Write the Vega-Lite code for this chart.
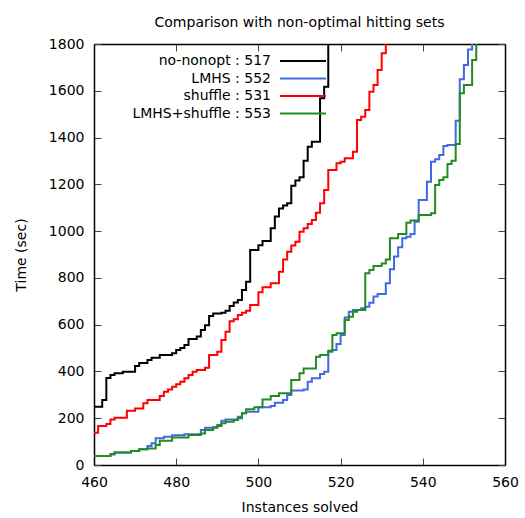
{
  "$schema": "https://vega.github.io/schema/vega-lite/v6.json",
  "autosize": {"type": "none"},
  "width": 411,
  "height": 421,
  "padding": {"left": 94, "top": 44, "right": 20, "bottom": 53},
  "background": "white",
  "title": {"text": "Comparison with non-optimal hitting sets", "font": "DejaVu Sans", "fontSize": 14, "fontWeight": "normal", "color": "black", "anchor": "middle", "frame": "group", "baseline": "alphabetic", "offset": -4},
  "config": {
    "view": {"stroke": null},
    "axis": {"labelFont": "DejaVu Sans", "labelFontSize": 14, "labelColor": "black", "titleFont": "DejaVu Sans", "titleFontSize": 14, "titleFontWeight": "normal", "titleColor": "black", "domainColor": "black", "domainWidth": 1.5, "tickColor": "#444", "tickWidth": 1, "tickSize": -7, "grid": false, "format": "d", "labelFlush": false, "labelOverlap": false},
    "legend": {"orient": "none", "legendX": 200, "legendY": 8, "padding": 0, "rowPadding": 1.5, "labelAlign": "right", "labelOffset": -41, "labelFont": "DejaVu Sans", "labelFontSize": 14, "labelColor": "black", "symbolType": "M-3,0L3,0", "symbolSize": 235, "symbolStrokeWidth": 2, "labelLimit": 0}
  },
  "data": {"values": [
    {"n": 460, "time": 249, "solver": "no-nonopt : 517"},
    {"n": 462, "time": 278, "solver": "no-nonopt : 517"},
    {"n": 463, "time": 372, "solver": "no-nonopt : 517"},
    {"n": 464, "time": 385, "solver": "no-nonopt : 517"},
    {"n": 465, "time": 392, "solver": "no-nonopt : 517"},
    {"n": 467, "time": 399, "solver": "no-nonopt : 517"},
    {"n": 470, "time": 423, "solver": "no-nonopt : 517"},
    {"n": 471, "time": 436, "solver": "no-nonopt : 517"},
    {"n": 473, "time": 449, "solver": "no-nonopt : 517"},
    {"n": 474, "time": 459, "solver": "no-nonopt : 517"},
    {"n": 476, "time": 470, "solver": "no-nonopt : 517"},
    {"n": 479, "time": 478, "solver": "no-nonopt : 517"},
    {"n": 480, "time": 492, "solver": "no-nonopt : 517"},
    {"n": 481, "time": 500, "solver": "no-nonopt : 517"},
    {"n": 482, "time": 513, "solver": "no-nonopt : 517"},
    {"n": 483, "time": 539, "solver": "no-nonopt : 517"},
    {"n": 485, "time": 549, "solver": "no-nonopt : 517"},
    {"n": 486, "time": 577, "solver": "no-nonopt : 517"},
    {"n": 487, "time": 598, "solver": "no-nonopt : 517"},
    {"n": 488, "time": 637, "solver": "no-nonopt : 517"},
    {"n": 489, "time": 648, "solver": "no-nonopt : 517"},
    {"n": 491, "time": 651, "solver": "no-nonopt : 517"},
    {"n": 492, "time": 660, "solver": "no-nonopt : 517"},
    {"n": 493, "time": 680, "solver": "no-nonopt : 517"},
    {"n": 494, "time": 695, "solver": "no-nonopt : 517"},
    {"n": 495, "time": 705, "solver": "no-nonopt : 517"},
    {"n": 496, "time": 748, "solver": "no-nonopt : 517"},
    {"n": 497, "time": 784, "solver": "no-nonopt : 517"},
    {"n": 498, "time": 919, "solver": "no-nonopt : 517"},
    {"n": 500, "time": 940, "solver": "no-nonopt : 517"},
    {"n": 501, "time": 958, "solver": "no-nonopt : 517"},
    {"n": 503, "time": 1012, "solver": "no-nonopt : 517"},
    {"n": 504, "time": 1062, "solver": "no-nonopt : 517"},
    {"n": 505, "time": 1097, "solver": "no-nonopt : 517"},
    {"n": 506, "time": 1109, "solver": "no-nonopt : 517"},
    {"n": 507, "time": 1119, "solver": "no-nonopt : 517"},
    {"n": 508, "time": 1194, "solver": "no-nonopt : 517"},
    {"n": 509, "time": 1216, "solver": "no-nonopt : 517"},
    {"n": 510, "time": 1230, "solver": "no-nonopt : 517"},
    {"n": 511, "time": 1301, "solver": "no-nonopt : 517"},
    {"n": 512, "time": 1361, "solver": "no-nonopt : 517"},
    {"n": 513, "time": 1382, "solver": "no-nonopt : 517"},
    {"n": 515, "time": 1568, "solver": "no-nonopt : 517"},
    {"n": 516, "time": 1617, "solver": "no-nonopt : 517"},
    {"n": 517, "time": 1900, "solver": "no-nonopt : 517"},

    {"n": 460, "time": 38, "solver": "LMHS : 552"},
    {"n": 464, "time": 46, "solver": "LMHS : 552"},
    {"n": 465, "time": 53, "solver": "LMHS : 552"},
    {"n": 469, "time": 60, "solver": "LMHS : 552"},
    {"n": 471, "time": 67, "solver": "LMHS : 552"},
    {"n": 473, "time": 81, "solver": "LMHS : 552"},
    {"n": 474, "time": 93, "solver": "LMHS : 552"},
    {"n": 475, "time": 114, "solver": "LMHS : 552"},
    {"n": 477, "time": 121, "solver": "LMHS : 552"},
    {"n": 479, "time": 127, "solver": "LMHS : 552"},
    {"n": 482, "time": 131, "solver": "LMHS : 552"},
    {"n": 486, "time": 150, "solver": "LMHS : 552"},
    {"n": 487, "time": 159, "solver": "LMHS : 552"},
    {"n": 490, "time": 171, "solver": "LMHS : 552"},
    {"n": 491, "time": 189, "solver": "LMHS : 552"},
    {"n": 492, "time": 195, "solver": "LMHS : 552"},
    {"n": 495, "time": 206, "solver": "LMHS : 552"},
    {"n": 496, "time": 221, "solver": "LMHS : 552"},
    {"n": 497, "time": 228, "solver": "LMHS : 552"},
    {"n": 500, "time": 247, "solver": "LMHS : 552"},
    {"n": 503, "time": 252, "solver": "LMHS : 552"},
    {"n": 504, "time": 266, "solver": "LMHS : 552"},
    {"n": 506, "time": 278, "solver": "LMHS : 552"},
    {"n": 507, "time": 299, "solver": "LMHS : 552"},
    {"n": 508, "time": 318, "solver": "LMHS : 552"},
    {"n": 511, "time": 323, "solver": "LMHS : 552"},
    {"n": 512, "time": 356, "solver": "LMHS : 552"},
    {"n": 513, "time": 371, "solver": "LMHS : 552"},
    {"n": 515, "time": 389, "solver": "LMHS : 552"},
    {"n": 516, "time": 399, "solver": "LMHS : 552"},
    {"n": 517, "time": 484, "solver": "LMHS : 552"},
    {"n": 518, "time": 492, "solver": "LMHS : 552"},
    {"n": 519, "time": 517, "solver": "LMHS : 552"},
    {"n": 520, "time": 556, "solver": "LMHS : 552"},
    {"n": 521, "time": 631, "solver": "LMHS : 552"},
    {"n": 522, "time": 655, "solver": "LMHS : 552"},
    {"n": 523, "time": 663, "solver": "LMHS : 552"},
    {"n": 525, "time": 670, "solver": "LMHS : 552"},
    {"n": 526, "time": 677, "solver": "LMHS : 552"},
    {"n": 527, "time": 694, "solver": "LMHS : 552"},
    {"n": 528, "time": 720, "solver": "LMHS : 552"},
    {"n": 529, "time": 731, "solver": "LMHS : 552"},
    {"n": 531, "time": 777, "solver": "LMHS : 552"},
    {"n": 532, "time": 837, "solver": "LMHS : 552"},
    {"n": 533, "time": 891, "solver": "LMHS : 552"},
    {"n": 534, "time": 931, "solver": "LMHS : 552"},
    {"n": 535, "time": 969, "solver": "LMHS : 552"},
    {"n": 536, "time": 976, "solver": "LMHS : 552"},
    {"n": 537, "time": 988, "solver": "LMHS : 552"},
    {"n": 538, "time": 1040, "solver": "LMHS : 552"},
    {"n": 539, "time": 1133, "solver": "LMHS : 552"},
    {"n": 541, "time": 1211, "solver": "LMHS : 552"},
    {"n": 542, "time": 1297, "solver": "LMHS : 552"},
    {"n": 543, "time": 1307, "solver": "LMHS : 552"},
    {"n": 544, "time": 1325, "solver": "LMHS : 552"},
    {"n": 545, "time": 1364, "solver": "LMHS : 552"},
    {"n": 546, "time": 1368, "solver": "LMHS : 552"},
    {"n": 548, "time": 1472, "solver": "LMHS : 552"},
    {"n": 549, "time": 1649, "solver": "LMHS : 552"},
    {"n": 550, "time": 1710, "solver": "LMHS : 552"},
    {"n": 551, "time": 1777, "solver": "LMHS : 552"},
    {"n": 552, "time": 1900, "solver": "LMHS : 552"},

    {"n": 460, "time": 138, "solver": "shuffle : 531"},
    {"n": 461, "time": 167, "solver": "shuffle : 531"},
    {"n": 463, "time": 175, "solver": "shuffle : 531"},
    {"n": 464, "time": 195, "solver": "shuffle : 531"},
    {"n": 465, "time": 202, "solver": "shuffle : 531"},
    {"n": 468, "time": 232, "solver": "shuffle : 531"},
    {"n": 470, "time": 242, "solver": "shuffle : 531"},
    {"n": 472, "time": 264, "solver": "shuffle : 531"},
    {"n": 473, "time": 278, "solver": "shuffle : 531"},
    {"n": 476, "time": 295, "solver": "shuffle : 531"},
    {"n": 477, "time": 313, "solver": "shuffle : 531"},
    {"n": 478, "time": 323, "solver": "shuffle : 531"},
    {"n": 479, "time": 335, "solver": "shuffle : 531"},
    {"n": 480, "time": 345, "solver": "shuffle : 531"},
    {"n": 481, "time": 356, "solver": "shuffle : 531"},
    {"n": 482, "time": 371, "solver": "shuffle : 531"},
    {"n": 483, "time": 385, "solver": "shuffle : 531"},
    {"n": 484, "time": 399, "solver": "shuffle : 531"},
    {"n": 485, "time": 406, "solver": "shuffle : 531"},
    {"n": 487, "time": 416, "solver": "shuffle : 531"},
    {"n": 488, "time": 470, "solver": "shuffle : 531"},
    {"n": 490, "time": 484, "solver": "shuffle : 531"},
    {"n": 491, "time": 534, "solver": "shuffle : 531"},
    {"n": 492, "time": 570, "solver": "shuffle : 531"},
    {"n": 493, "time": 615, "solver": "shuffle : 531"},
    {"n": 494, "time": 623, "solver": "shuffle : 531"},
    {"n": 495, "time": 641, "solver": "shuffle : 531"},
    {"n": 496, "time": 651, "solver": "shuffle : 531"},
    {"n": 497, "time": 660, "solver": "shuffle : 531"},
    {"n": 498, "time": 684, "solver": "shuffle : 531"},
    {"n": 500, "time": 739, "solver": "shuffle : 531"},
    {"n": 501, "time": 760, "solver": "shuffle : 531"},
    {"n": 503, "time": 777, "solver": "shuffle : 531"},
    {"n": 505, "time": 826, "solver": "shuffle : 531"},
    {"n": 506, "time": 879, "solver": "shuffle : 531"},
    {"n": 507, "time": 912, "solver": "shuffle : 531"},
    {"n": 508, "time": 938, "solver": "shuffle : 531"},
    {"n": 509, "time": 955, "solver": "shuffle : 531"},
    {"n": 510, "time": 997, "solver": "shuffle : 531"},
    {"n": 511, "time": 1012, "solver": "shuffle : 531"},
    {"n": 512, "time": 1030, "solver": "shuffle : 531"},
    {"n": 513, "time": 1047, "solver": "shuffle : 531"},
    {"n": 514, "time": 1079, "solver": "shuffle : 531"},
    {"n": 515, "time": 1119, "solver": "shuffle : 531"},
    {"n": 516, "time": 1176, "solver": "shuffle : 531"},
    {"n": 517, "time": 1261, "solver": "shuffle : 531"},
    {"n": 519, "time": 1290, "solver": "shuffle : 531"},
    {"n": 520, "time": 1297, "solver": "shuffle : 531"},
    {"n": 521, "time": 1311, "solver": "shuffle : 531"},
    {"n": 523, "time": 1339, "solver": "shuffle : 531"},
    {"n": 524, "time": 1475, "solver": "shuffle : 531"},
    {"n": 525, "time": 1489, "solver": "shuffle : 531"},
    {"n": 526, "time": 1518, "solver": "shuffle : 531"},
    {"n": 527, "time": 1596, "solver": "shuffle : 531"},
    {"n": 528, "time": 1625, "solver": "shuffle : 531"},
    {"n": 529, "time": 1689, "solver": "shuffle : 531"},
    {"n": 530, "time": 1760, "solver": "shuffle : 531"},
    {"n": 531, "time": 1900, "solver": "shuffle : 531"},

    {"n": 460, "time": 38, "solver": "LMHS+shuffle : 553"},
    {"n": 464, "time": 46, "solver": "LMHS+shuffle : 553"},
    {"n": 465, "time": 53, "solver": "LMHS+shuffle : 553"},
    {"n": 469, "time": 60, "solver": "LMHS+shuffle : 553"},
    {"n": 471, "time": 67, "solver": "LMHS+shuffle : 553"},
    {"n": 473, "time": 71, "solver": "LMHS+shuffle : 553"},
    {"n": 475, "time": 86, "solver": "LMHS+shuffle : 553"},
    {"n": 476, "time": 104, "solver": "LMHS+shuffle : 553"},
    {"n": 479, "time": 118, "solver": "LMHS+shuffle : 553"},
    {"n": 483, "time": 128, "solver": "LMHS+shuffle : 553"},
    {"n": 486, "time": 135, "solver": "LMHS+shuffle : 553"},
    {"n": 487, "time": 150, "solver": "LMHS+shuffle : 553"},
    {"n": 489, "time": 161, "solver": "LMHS+shuffle : 553"},
    {"n": 490, "time": 167, "solver": "LMHS+shuffle : 553"},
    {"n": 491, "time": 178, "solver": "LMHS+shuffle : 553"},
    {"n": 492, "time": 185, "solver": "LMHS+shuffle : 553"},
    {"n": 494, "time": 192, "solver": "LMHS+shuffle : 553"},
    {"n": 495, "time": 200, "solver": "LMHS+shuffle : 553"},
    {"n": 496, "time": 221, "solver": "LMHS+shuffle : 553"},
    {"n": 497, "time": 238, "solver": "LMHS+shuffle : 553"},
    {"n": 499, "time": 247, "solver": "LMHS+shuffle : 553"},
    {"n": 501, "time": 280, "solver": "LMHS+shuffle : 553"},
    {"n": 503, "time": 295, "solver": "LMHS+shuffle : 553"},
    {"n": 505, "time": 307, "solver": "LMHS+shuffle : 553"},
    {"n": 508, "time": 363, "solver": "LMHS+shuffle : 553"},
    {"n": 510, "time": 392, "solver": "LMHS+shuffle : 553"},
    {"n": 511, "time": 413, "solver": "LMHS+shuffle : 553"},
    {"n": 514, "time": 463, "solver": "LMHS+shuffle : 553"},
    {"n": 515, "time": 470, "solver": "LMHS+shuffle : 553"},
    {"n": 517, "time": 489, "solver": "LMHS+shuffle : 553"},
    {"n": 518, "time": 556, "solver": "LMHS+shuffle : 553"},
    {"n": 519, "time": 563, "solver": "LMHS+shuffle : 553"},
    {"n": 521, "time": 620, "solver": "LMHS+shuffle : 553"},
    {"n": 522, "time": 634, "solver": "LMHS+shuffle : 553"},
    {"n": 523, "time": 655, "solver": "LMHS+shuffle : 553"},
    {"n": 524, "time": 663, "solver": "LMHS+shuffle : 553"},
    {"n": 526, "time": 820, "solver": "LMHS+shuffle : 553"},
    {"n": 527, "time": 834, "solver": "LMHS+shuffle : 553"},
    {"n": 528, "time": 851, "solver": "LMHS+shuffle : 553"},
    {"n": 530, "time": 862, "solver": "LMHS+shuffle : 553"},
    {"n": 531, "time": 879, "solver": "LMHS+shuffle : 553"},
    {"n": 532, "time": 969, "solver": "LMHS+shuffle : 553"},
    {"n": 534, "time": 988, "solver": "LMHS+shuffle : 553"},
    {"n": 536, "time": 1036, "solver": "LMHS+shuffle : 553"},
    {"n": 537, "time": 1045, "solver": "LMHS+shuffle : 553"},
    {"n": 539, "time": 1069, "solver": "LMHS+shuffle : 553"},
    {"n": 542, "time": 1076, "solver": "LMHS+shuffle : 553"},
    {"n": 543, "time": 1197, "solver": "LMHS+shuffle : 553"},
    {"n": 544, "time": 1218, "solver": "LMHS+shuffle : 553"},
    {"n": 545, "time": 1230, "solver": "LMHS+shuffle : 553"},
    {"n": 546, "time": 1287, "solver": "LMHS+shuffle : 553"},
    {"n": 547, "time": 1301, "solver": "LMHS+shuffle : 553"},
    {"n": 548, "time": 1372, "solver": "LMHS+shuffle : 553"},
    {"n": 549, "time": 1589, "solver": "LMHS+shuffle : 553"},
    {"n": 550, "time": 1625, "solver": "LMHS+shuffle : 553"},
    {"n": 552, "time": 1732, "solver": "LMHS+shuffle : 553"},
    {"n": 553, "time": 1900, "solver": "LMHS+shuffle : 553"}
  ]},
  "layer": [
    {
      "mark": {"type": "line", "interpolate": "step-after", "strokeWidth": 2, "clip": true},
      "encoding": {
        "x": {"field": "n", "type": "quantitative", "scale": {"domain": [460, 560], "nice": false, "zero": false},
              "axis": {"orient": "bottom", "title": "Instances solved", "values": [460, 480, 500, 520, 540, 560], "labelPadding": 17, "titlePadding": 11}},
        "y": {"field": "time", "type": "quantitative", "scale": {"domain": [0, 1800], "nice": false},
              "axis": {"orient": "left", "title": "Time (sec)", "values": [0, 200, 400, 600, 800, 1000, 1200, 1400, 1600, 1800], "labelPadding": 17, "titlePadding": 20}},
        "color": {"field": "solver", "type": "nominal",
                  "scale": {"domain": ["no-nonopt : 517", "LMHS : 552", "shuffle : 531", "LMHS+shuffle : 553"], "range": ["#000000", "#4169e1", "#ff0000", "#228b22"]},
                  "legend": {"title": null}},
        "order": {"field": "n", "type": "quantitative"}
      }
    },
    {
      "mark": {"type": "line", "opacity": 0, "clip": true},
      "encoding": {
        "x": {"field": "n", "type": "quantitative", "scale": {"domain": [460, 560], "nice": false, "zero": false},
              "axis": {"orient": "top", "title": null, "labels": false, "values": [460, 480, 500, 520, 540, 560]}},
        "y": {"field": "time", "type": "quantitative", "scale": {"domain": [0, 1800], "nice": false},
              "axis": {"orient": "right", "title": null, "labels": false, "values": [0, 200, 400, 600, 800, 1000, 1200, 1400, 1600, 1800]}},
        "detail": {"field": "solver", "type": "nominal"}
      }
    }
  ],
  "resolve": {"axis": {"x": "independent", "y": "independent"}}
}
